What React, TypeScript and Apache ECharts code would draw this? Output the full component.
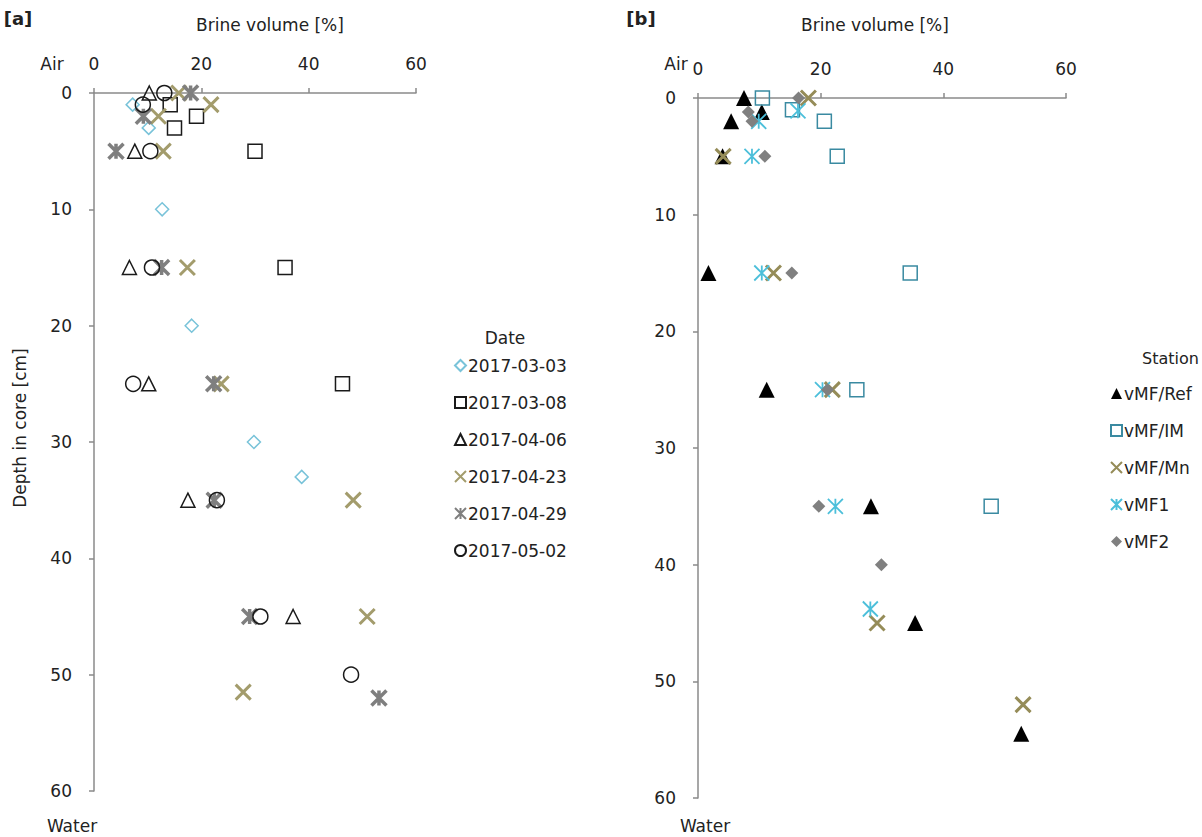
import { useEffect, useRef } from "react";
import * as echarts from "echarts";

const FONT = "DejaVu Sans";
const X_PATH = "path://M0,0L10,10M10,0L0,10";
const STAR_PATH = "path://M0,0L10,10M10,0L0,10M5,0L5,10";

// Panel [a] – by date: [brine volume %, depth cm]
const dateNames = ["2017-03-03", "2017-03-08", "2017-04-06", "2017-04-23", "2017-04-29", "2017-05-02"];
const d0303 = [[7.2, 1], [10.2, 3], [12.7, 10], [18.2, 20], [29.8, 30], [38.7, 33]];
const d0308 = [[14.2, 1], [19.1, 2], [15.0, 3], [30.0, 5], [35.6, 15], [46.3, 25]];
const d0406 = [[10.3, 0], [7.6, 5], [6.6, 15], [10.2, 25], [17.5, 35], [37.1, 45]];
const d0423 = [[15.8, 0], [21.8, 1], [12.0, 2], [12.9, 5], [17.4, 15], [23.7, 25], [48.3, 35], [50.9, 45], [27.8, 51.5]];
const d0429 = [[18.0, 0], [9.2, 2], [4.1, 5], [12.6, 15], [22.3, 25], [22.4, 35], [29.0, 45], [53.1, 52]];
const d0502 = [[13.1, 0], [9.1, 1], [10.5, 5], [10.8, 15], [7.3, 25], [22.9, 35], [31.0, 45], [47.9, 50]];

// Panel [b] – by station
const stationNames = ["vMF/Ref", "vMF/IM", "vMF/Mn", "vMF1", "vMF2"];
const sRef = [[7.5, 0], [10.4, 1.2], [5.4, 2], [4.0, 5], [1.7, 15], [11.2, 25], [28.2, 35], [35.4, 45], [52.7, 54.5]];
const sIM = [[10.5, 0], [15.4, 1], [20.6, 2], [22.7, 5], [34.6, 15], [25.9, 25], [47.8, 35]];
const sMn = [[18.0, 0], [4.1, 5], [12.3, 15], [21.9, 25], [29.2, 45], [53.0, 52]];
const sF1 = [[16.3, 1.1], [9.9, 2], [8.8, 5], [10.4, 15], [20.3, 25], [22.4, 35], [28.1, 43.8]];
const sF2 = [[16.4, 0], [8.2, 1.2], [8.8, 2], [10.9, 5], [15.3, 15], [21.1, 25], [19.7, 35], [29.9, 40]];

const xTicks = { min: 0, max: 60, interval: 20 };
const yTicks = { min: 0, max: 60, interval: 10 };

const AXIS_COLOR = "#8a8a8a";
const TEXT_COLOR = "#222";

function xAxis(gridIndex: number) {
  return {
    gridIndex,
    type: "value",
    position: "top",
    ...xTicks,
    axisLine: { show: true, onZero: false, lineStyle: { color: AXIS_COLOR, width: 1.5 } },
    axisTick: { show: true, length: 5, lineStyle: { color: AXIS_COLOR, width: 1.5 } },
    axisLabel: { fontSize: 17, fontFamily: FONT, color: TEXT_COLOR, margin: 21 },
    splitLine: { show: false },
  };
}
function yAxis(gridIndex: number) {
  return {
    gridIndex,
    type: "value",
    inverse: true,
    ...yTicks,
    axisLine: { show: true, onZero: false, lineStyle: { color: AXIS_COLOR, width: 1.5 } },
    axisTick: { show: true, length: 5, lineStyle: { color: AXIS_COLOR, width: 1.5 } },
    axisLabel: { fontSize: 17, fontFamily: FONT, color: TEXT_COLOR, margin: 22 },
    splitLine: { show: false },
  };
}

function sc(name: string, data: number[][], idx: number, symbol: string, size: number, itemStyle: any) {
  return {
    type: "scatter",
    name,
    data,
    xAxisIndex: idx,
    yAxisIndex: idx,
    symbol,
    symbolSize: size,
    itemStyle: { opacity: 1, ...itemStyle },
    emphasis: { disabled: true },
  };
}

function txt(text: string, x: number, y: number, extra: any = {}) {
  return {
    type: "text",
    x,
    y,
    rotation: extra.rotation || 0,
    style: {
      text,
      fontSize: extra.fontSize || 17,
      fontFamily: FONT,
      fontWeight: extra.fontWeight || "normal",
      fill: extra.fill || TEXT_COLOR,
      align: extra.align || "center",
      verticalAlign: "middle",
    },
  };
}

export default function App() {
  const ref = useRef<HTMLDivElement>(null);
  useEffect(() => {
    const chart = echarts.init(ref.current!, null, { renderer: "svg" });
    const legendBase = {
      orient: "vertical",
      itemWidth: 11,
      itemHeight: 11,
      itemGap: 20,
      selectedMode: false,
      textStyle: { fontSize: 17, fontFamily: FONT, color: TEXT_COLOR, padding: [0, 0, 0, -3] },
    };
    const option: any = {
      animation: false,
      backgroundColor: "#fff",
      grid: [
        { left: 94, top: 93, width: 322, height: 698 },
        { left: 698, top: 98, width: 368, height: 700 },
      ],
      xAxis: [xAxis(0), xAxis(1)],
      yAxis: [yAxis(0), yAxis(1)],
      legend: [
        { ...legendBase, data: dateNames, left: 449, top: 352 },
        { ...legendBase, data: stationNames, left: 1105, top: 380 },
      ],
      series: [
        sc(dateNames[0], d0303, 0, "diamond", 13, { color: "rgba(0,0,0,0)", borderColor: "#79c3d9", borderWidth: 1.5 }),
        sc(dateNames[1], d0308, 0, "rect", 14, { color: "rgba(0,0,0,0)", borderColor: "#1a1a1a", borderWidth: 1.5 }),
        sc(dateNames[2], d0406, 0, "triangle", 14, { color: "rgba(0,0,0,0)", borderColor: "#1a1a1a", borderWidth: 1.5 }),
        sc(dateNames[3], d0423, 0, X_PATH, 15, { color: "rgba(0,0,0,0)", borderColor: "#a39c6c", borderWidth: 3 }),
        sc(dateNames[4], d0429, 0, STAR_PATH, 15, { color: "rgba(0,0,0,0)", borderColor: "#7f7f7f", borderWidth: 3.5 }),
        sc(dateNames[5], d0502, 0, "circle", 15, { color: "rgba(0,0,0,0)", borderColor: "#1a1a1a", borderWidth: 1.5 }),
        sc(stationNames[0], sRef, 1, "triangle", 16, { color: "#000" }),
        sc(stationNames[1], sIM, 1, "rect", 14, { color: "rgba(0,0,0,0)", borderColor: "#3a8aa1", borderWidth: 1.5 }),
        sc(stationNames[2], sMn, 1, X_PATH, 15, { color: "rgba(0,0,0,0)", borderColor: "#958c58", borderWidth: 3 }),
        sc(stationNames[3], sF1, 1, STAR_PATH, 15, { color: "rgba(0,0,0,0)", borderColor: "#4cbfda", borderWidth: 1.8 }),
        sc(stationNames[4], sF2, 1, "diamond", 13, { color: "#808080" }),
      ],
      graphic: [
        txt("[a]", 18, 18, { fontWeight: "bold", fontSize: 18 }),
        txt("Brine volume [%]", 270, 25),
        txt("Air", 52, 64),
        txt("Water", 72, 826),
        txt("Depth in core [cm]", 20, 428, { rotation: Math.PI / 2 }),
        txt("Date", 505, 338),
        txt("[b]", 641, 18, { fontWeight: "bold", fontSize: 18 }),
        txt("Brine volume [%]", 875, 25),
        txt("Air", 676, 64),
        txt("Water", 705, 826),
        txt("Station", 1199, 358, { align: "right", fontSize: 16 }),
      ],
    };
    chart.setOption(option);
    return () => chart.dispose();
  }, []);
  return (
    <div
      ref={ref}
      style={{ position: "absolute", left: 0, top: 0, width: 1202, height: 837, background: "#fff" }}
    />
  );
}
